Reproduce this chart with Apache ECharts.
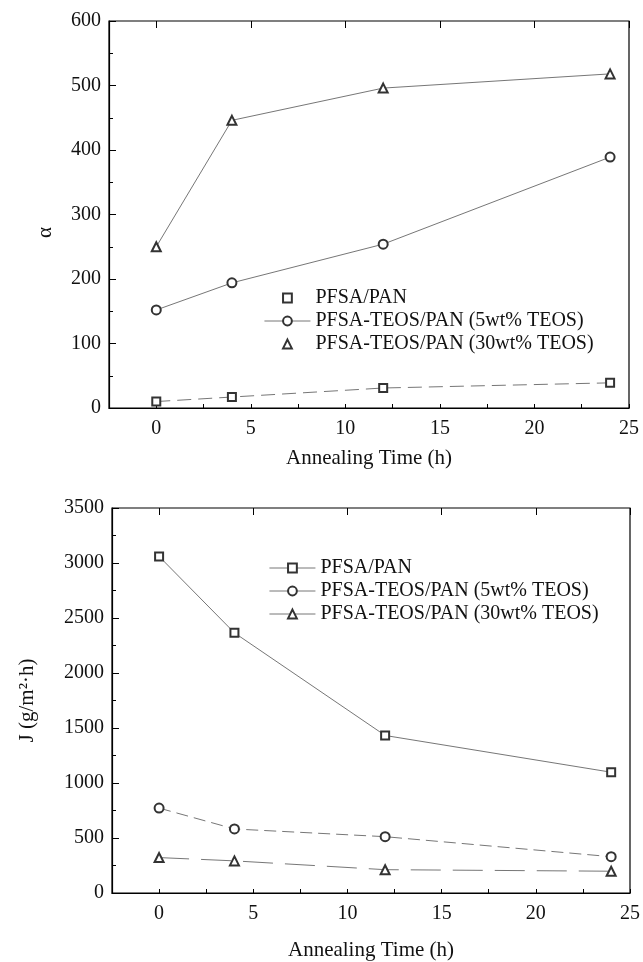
<!DOCTYPE html>
<html>
<head>
<meta charset="utf-8">
<script src="https://cdn.jsdelivr.net/npm/echarts@6/dist/echarts.min.js"></script>
<style>
  html, body { margin: 0; padding: 0; background: #fff; }
  #chart { width: 643px; height: 962px; }
</style>
</head>
<body>
<div id="chart"></div>
<script>
// annealing times (h)
var times = [0, 4, 12, 24];
// separation factor alpha
var alphaPan = [10, 17, 31, 39];
var alphaTeos5 = [152, 194, 254, 389];
var alphaTeos30 = [250, 446, 496, 518];
// flux J (g/m2 h)
var fluxPan = [3060, 2365, 1432, 1098];
var fluxTeos5 = [772, 582, 512, 330];
var fluxTeos30 = [322, 292, 212, 198];

var names = ['PFSA/PAN', 'PFSA-TEOS/PAN (5wt% TEOS)', 'PFSA-TEOS/PAN (30wt% TEOS)'];
var xTicks = [0, 5, 10, 15, 20, 25];

var serif = '"Liberation Serif", "Times New Roman", serif';
var ink = '#111';

function pairs(ys) {
    return times.map(function (t, i) { return [t, ys[i]]; });
}

function mkSeries(name, ys, grid, symbol, dash) {
    return {
        name: name,
        type: 'line',
        xAxisIndex: grid * 2,
        yAxisIndex: grid,
        data: pairs(ys),
        symbol: symbol,
        symbolSize: symbol === 'emptyRect' ? 8 : 9,
        itemStyle: { color: '#333', borderColor: '#333', borderWidth: 1 },
        lineStyle: { color: '#666', width: 0.9, type: dash },
        animation: false
    };
}

// 坐标轴: 主轴带标签和短刻度, 副轴只画长刻度
function xAxes(grid, gap) {
    return [{
        gridIndex: grid,
        type: 'value',
        min: -2.5,
        max: 25,
        interval: 2.5,
        name: 'Annealing Time (h)',
        nameLocation: 'middle',
        nameGap: gap,
        nameMoveOverlap: false,
        nameTextStyle: { fontFamily: serif, fontSize: 21, color: ink },
        axisLine: { show: true, onZero: false, lineStyle: { color: '#000', width: 1.2 } },
        axisTick: { show: true, inside: true, length: 4, lineStyle: { color: '#000' } },
        axisLabel: {
            margin: 11,
            fontFamily: serif, fontSize: 20, color: ink,
            formatter: function (v) { return xTicks.indexOf(v) >= 0 ? String(v) : ''; }
        },
        splitLine: { show: false }
    }, {
        gridIndex: grid,
        type: 'value',
        min: -2.5,
        max: 25,
        axisLine: { show: false, onZero: false },
        axisTick: { show: true, inside: true, length: 7, lineStyle: { color: '#000' } },
        axisLabel: { show: false },
        splitLine: { show: false }
    }];
}

function yAxis(grid, max, step, name, gap, pad) {
    return {
        gridIndex: grid,
        type: 'value',
        min: 0,
        max: max,
        interval: step,
        name: name,
        nameLocation: 'middle',
        nameRotate: 90,
        nameGap: gap,
        nameTextStyle: { fontFamily: serif, fontSize: 21, color: ink, padding: pad },
        axisLine: { show: true, onZero: false, lineStyle: { color: '#000', width: 1.2 } },
        axisTick: { show: true, inside: true, length: 7, lineStyle: { color: '#000' } },
        minorTick: { show: true, splitNumber: 2, length: 4, lineStyle: { color: '#000' } },
        axisLabel: {
            margin: 8, fontFamily: serif, fontSize: 20, color: ink,
            formatter: function (v) { return String(v); }
        },
        splitLine: { show: false }
    };
}

var legendText = { fontFamily: serif, fontSize: 20, color: ink };
var noLine = { opacity: 0 };

var chart = echarts.init(document.getElementById('chart'));
chart.setOption({
    backgroundColor: '#fff',
    animation: false,
    grid: [
        { left: 109, top: 21, width: 520, height: 387, show: true, borderColor: '#000', borderWidth: 1.2, backgroundColor: 'transparent' },
        { left: 112, top: 508, width: 520, height: 388, show: true, borderColor: '#000', borderWidth: 1.2, backgroundColor: 'transparent' }
    ],
    xAxis: xAxes(0, 40).concat(xAxes(1, 47)),
    yAxis: [
        yAxis(0, 600, 100, 'α', 53, [0, 36, 0, 0]),
        yAxis(1, 3500, 500, 'J (g/m²·h)', 74, 0)
    ],
    legend: [{
        orient: 'vertical',
        left: 259,
        top: 283,
        itemWidth: 46,
        itemHeight: 11,
        itemGap: 3,
        textStyle: legendText,
        lineStyle: { type: 'solid', color: '#666', width: 0.9 },
        data: [
            { name: names[0], lineStyle: noLine },
            { name: names[1] },
            { name: names[2], lineStyle: noLine }
        ]
    }, {
        orient: 'vertical',
        left: 264,
        top: 553,
        itemWidth: 46,
        itemHeight: 11,
        itemGap: 3,
        textStyle: legendText,
        lineStyle: { type: 'solid', color: '#666', width: 0.9 },
        data: names
    }],
    series: [
        mkSeries(names[0], alphaPan, 0, 'emptyRect', [14, 7]),
        mkSeries(names[1], alphaTeos5, 0, 'emptyCircle', 'solid'),
        mkSeries(names[2], alphaTeos30, 0, 'emptyTriangle', 'solid'),
        mkSeries(names[0], fluxPan, 1, 'emptyRect', 'solid'),
        mkSeries(names[1], fluxTeos5, 1, 'emptyCircle', [12, 6]),
        mkSeries(names[2], fluxTeos30, 1, 'emptyTriangle', [30, 12])
    ]
});
</script>
</body>
</html>
